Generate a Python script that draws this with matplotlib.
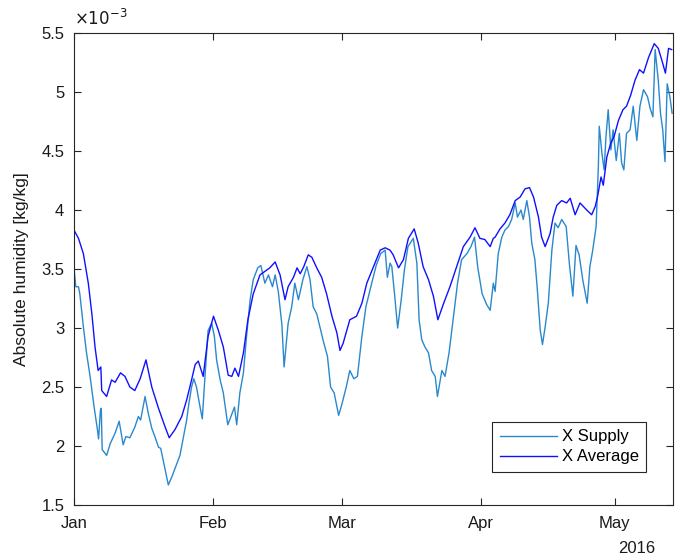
import numpy as np
import matplotlib
matplotlib.use("Agg")
import matplotlib.pyplot as plt
import matplotlib.dates as mdates
from matplotlib.ticker import FuncFormatter

# days since 2016-01-01 and humidity in 1e-3 kg/kg
supply_days = [0.0, 0.4, 1.0, 1.3, 2.1, 2.8, 3.6, 4.5, 5.2, 5.5, 5.9, 6.1, 6.3, 7.3, 8.1,
               9.2, 10.1, 11.0, 11.6, 12.5, 13.6, 14.4, 14.9, 15.9, 16.6, 17.4, 18.1,
               18.9, 19.4, 20.4, 21.1, 21.9, 23.0, 23.7, 24.5, 25.2, 25.7, 26.3, 26.8,
               27.4, 28.2, 28.7, 29.3, 30.0, 30.8, 31.4, 31.9, 32.7, 33.4, 34.4, 35.1,
               35.9, 36.4, 37.1, 37.9, 38.6, 39.4, 40.1, 41.1, 41.8, 42.7, 43.5, 44.4,
               45.0, 45.7, 46.5, 47.0, 47.9, 48.7, 49.4, 50.2, 51.2, 52.1, 52.8, 53.5,
               54.3, 55.2, 55.9, 56.7, 57.4, 58.2, 59.2, 59.9, 60.9, 61.7, 62.6, 63.4,
               64.4, 65.3, 66.4, 67.6, 68.6, 69.6, 70.1, 70.7, 71.1, 71.7, 72.4, 73.2,
               73.9, 74.7, 75.9, 76.7, 77.2, 77.8, 78.5, 79.3, 80.0, 80.8, 81.3, 82.3,
               83.0, 83.9, 84.9, 85.8, 86.7, 87.9, 88.8, 89.6, 90.3, 91.3, 92.3, 93.1,
               93.8, 94.2, 94.9, 95.7, 96.4, 97.2, 97.9, 98.7, 99.2, 100.0, 100.5, 101.3,
               101.9, 102.4, 103.1, 103.6, 104.3, 104.8, 105.4, 106.1, 106.9, 107.6,
               108.3, 109.1, 110.1, 110.8, 111.6, 112.3, 113.0, 113.8, 114.8, 115.4,
               116.0, 116.8, 117.3, 117.5, 118.1, 118.6, 119.0, 119.5, 120.1, 120.6,
               121.3, 122.0, 122.5, 123.0, 123.6, 124.4, 125.1, 125.9, 126.6, 127.4,
               128.3, 128.9, 129.5, 130.0, 130.7, 131.2, 131.7, 132.2, 132.7, 133.3, 133.8]
supply_vals = [3.51, 3.35, 3.35, 3.29, 3.01, 2.79, 2.59, 2.33, 2.15, 2.06, 2.30, 2.32, 1.97,
               1.92, 2.02, 2.11, 2.21, 2.01, 2.08, 2.07, 2.16, 2.25, 2.22, 2.42, 2.28, 2.15,
               2.08, 1.99, 1.98, 1.80, 1.67, 1.74, 1.85, 1.92, 2.08, 2.22, 2.36, 2.50, 2.57,
               2.50, 2.33, 2.23, 2.59, 2.98, 3.04, 2.93, 2.73, 2.56, 2.45, 2.18, 2.25, 2.33,
               2.18, 2.45, 2.62, 2.93, 3.24, 3.41, 3.51, 3.53, 3.38, 3.45, 3.35, 3.45, 3.31,
               3.03, 2.67, 3.04, 3.18, 3.38, 3.24, 3.41, 3.52, 3.41, 3.18, 3.12, 2.98, 2.87,
               2.76, 2.50, 2.45, 2.26, 2.35, 2.50, 2.64, 2.57, 2.59, 2.93, 3.18, 3.35, 3.53,
               3.63, 3.66, 3.43, 3.55, 3.52, 3.29, 3.00, 3.24, 3.49, 3.69, 3.76, 3.55, 3.07,
               2.90, 2.84, 2.79, 2.64, 2.59, 2.42, 2.64, 2.59, 2.79, 3.10, 3.38, 3.58, 3.63,
               3.69, 3.77, 3.52, 3.29, 3.20, 3.15, 3.38, 3.31, 3.63, 3.77, 3.83, 3.86, 3.92,
               4.06, 3.94, 4.00, 3.92, 4.08, 3.94, 3.72, 3.58, 3.35, 2.98, 2.86, 3.01, 3.21,
               3.66, 3.89, 3.85, 3.92, 3.86, 3.55, 3.27, 3.70, 3.62, 3.41, 3.21, 3.52, 3.65,
               3.86, 4.37, 4.71, 4.48, 4.34, 4.62, 4.85, 4.51, 4.68, 4.42, 4.65, 4.40, 4.34,
               4.65, 4.68, 4.88, 4.59, 4.88, 5.02, 4.96, 4.86, 4.79, 5.36, 5.10, 4.82, 4.68,
               4.41, 5.07, 4.96, 4.82]

average_days = [0.0, 1.0, 2.1, 3.2, 4.0, 4.7, 5.4, 6.0, 6.2, 7.3, 8.4, 9.2, 10.4, 11.4,
                12.5, 13.6, 14.8, 16.1, 17.4, 18.9, 20.4, 21.3, 22.6, 24.1, 25.2, 26.3,
                27.1, 27.8, 28.9, 30.0, 31.2, 32.3, 33.4, 34.5, 35.3, 36.0, 36.8, 37.9,
                38.9, 40.1, 41.6, 42.7, 43.8, 45.0, 46.1, 47.2, 47.9, 49.1, 49.9, 50.6,
                51.4, 52.4, 53.2, 54.3, 55.4, 56.5, 57.7, 58.8, 59.5, 60.2, 61.7, 63.2,
                64.4, 65.5, 67.0, 68.5, 69.6, 70.7, 71.4, 72.6, 73.7, 74.8, 76.1, 77.0,
                78.1, 79.3, 80.4, 81.4, 82.6, 84.1, 85.6, 87.1, 88.6, 89.7, 90.8, 91.9,
                93.1, 93.8, 94.2, 95.3, 96.4, 97.5, 98.7, 99.8, 100.9, 101.9, 102.8, 103.9,
                104.6, 105.4, 106.5, 107.2, 108.0, 109.1, 110.2, 111.0, 112.1, 113.2,
                114.7, 115.8, 116.6, 117.1, 117.9, 118.4, 119.2, 120.1, 120.8, 121.8,
                122.8, 123.6, 124.5, 125.5, 126.5, 127.4, 128.5, 129.8, 130.7, 131.5,
                132.3, 133.0, 133.7]
average_vals = [3.83, 3.76, 3.63, 3.38, 3.12, 2.84, 2.64, 2.67, 2.47, 2.42, 2.56, 2.54, 2.62,
                2.59, 2.50, 2.47, 2.57, 2.73, 2.50, 2.32, 2.16, 2.07, 2.14, 2.25, 2.39, 2.56,
                2.69, 2.72, 2.59, 2.93, 3.10, 2.98, 2.84, 2.60, 2.59, 2.66, 2.59, 2.79, 3.07,
                3.29, 3.45, 3.48, 3.51, 3.56, 3.45, 3.24, 3.35, 3.43, 3.51, 3.46, 3.52, 3.62,
                3.60, 3.51, 3.43, 3.29, 3.10, 2.96, 2.81, 2.87, 3.07, 3.10, 3.21, 3.38, 3.52,
                3.66, 3.68, 3.66, 3.62, 3.51, 3.58, 3.76, 3.84, 3.72, 3.52, 3.41, 3.27, 3.07,
                3.20, 3.35, 3.52, 3.69, 3.77, 3.85, 3.76, 3.75, 3.69, 3.76, 3.77, 3.84, 3.89,
                3.96, 4.08, 4.11, 4.18, 4.19, 4.11, 3.94, 3.77, 3.69, 3.80, 3.94, 4.04, 4.08,
                4.06, 4.10, 3.96, 4.06, 4.00, 3.96, 4.03, 4.11, 4.28, 4.21, 4.45, 4.57, 4.62,
                4.76, 4.85, 4.88, 4.97, 5.10, 5.19, 5.16, 5.29, 5.41, 5.37, 5.27, 5.16, 5.37,
                5.36]

start = np.datetime64("2016-01-01T00:00:00")


def to_dates(days):
    return start + (np.array(days) * 86400).astype("timedelta64[s]")


plt.rcParams["font.family"] = ["Liberation Sans", "DejaVu Sans"]

fig = plt.figure(figsize=(6.89, 5.6), dpi=100)
ax = fig.add_axes([0.1074, 0.0982, 0.8694, 0.8428])

ax.plot(to_dates(supply_days), np.array(supply_vals) * 1e-3, color="#2a88cc", lw=1.0,
        label="X Supply")
ax.plot(to_dates(average_days), np.array(average_vals) * 1e-3, color="#1010ff", lw=1.0,
        label="X Average")

ax.set_xlim(start, np.datetime64("2016-05-14T00:00:00"))
ax.set_ylim(1.5e-3, 5.5e-3)
ax.set_yticks(np.arange(1.5, 5.51, 0.5) * 1e-3)
ax.yaxis.set_major_formatter(FuncFormatter(lambda v, p: f"{v * 1e3:g}"))
ax.xaxis.set_major_locator(mdates.MonthLocator())
ax.xaxis.set_major_formatter(mdates.DateFormatter("%b"))

ink = "#262626"
txt = "#1a1a1a"
for s in ax.spines.values():
    s.set_color(ink)
    s.set_linewidth(0.8)
ax.tick_params(direction="in", length=5, width=0.8, colors=ink, labelcolor=txt,
               labelsize=12, top=True, right=True)
ax.tick_params(axis="x", pad=8)
ax.tick_params(axis="y", pad=7)

ax.set_ylabel("Absolute humidity [kg/kg]", fontsize=12.5, color=txt, labelpad=9)
ax.text(0.0, 1.01, r"$\times10^{-3}$", transform=ax.transAxes, fontsize=12,
        color=txt, ha="left", va="bottom")
ax.text(0.94, -0.092, "2016", transform=ax.transAxes, fontsize=12, color=txt,
        ha="center", va="center")

leg = ax.legend(loc="lower right", bbox_to_anchor=(0.955, 0.07), fontsize=12,
                fancybox=False, edgecolor=ink, framealpha=1, handlelength=3.4,
                handletextpad=0.3, borderpad=0.45, labelspacing=0.3,
                borderaxespad=0.0)
leg.get_frame().set_linewidth(0.8)

fig.savefig("out.png", dpi=100)
